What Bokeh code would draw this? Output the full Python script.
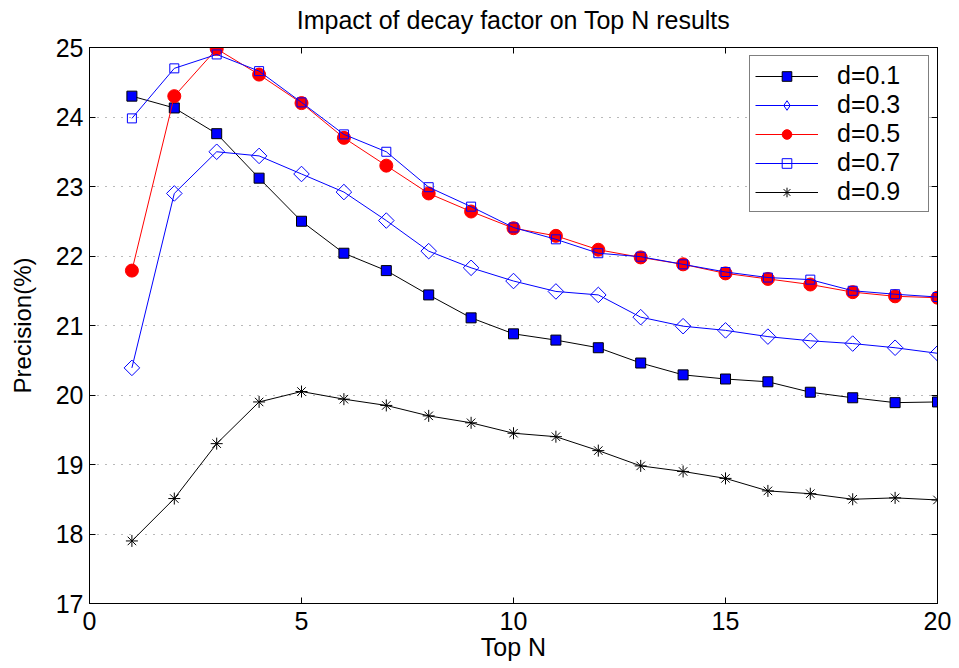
import numpy as np
from bokeh.plotting import figure
from bokeh.models import LinearAxis, FixedTicker, Legend, LegendItem, Range1d, CustomLabelingPolicy
from bokeh.embed import file_html
from bokeh.resources import INLINE

top_n = list(range(1, 21))
d01 = [24.30, 24.13, 23.76, 23.12, 22.50, 22.04, 21.79, 21.44, 21.11, 20.88,
       20.79, 20.68, 20.46, 20.29, 20.23, 20.19, 20.04, 19.96, 19.89, 19.90]
d03 = [20.39, 22.90, 23.50, 23.44, 23.18, 22.92, 22.51, 22.07, 21.83, 21.64,
       21.49, 21.44, 21.12, 20.99, 20.93, 20.84, 20.78, 20.74, 20.68, 20.60]
d05 = [21.79, 24.30, 24.98, 24.61, 24.20, 23.70, 23.30, 22.90, 22.64, 22.40,
       22.29, 22.09, 21.98, 21.88, 21.75, 21.67, 21.59, 21.48, 21.42, 21.40]
d07 = [23.98, 24.70, 24.90, 24.66, 24.21, 23.75, 23.50, 22.99, 22.71, 22.41,
       22.24, 22.04, 21.99, 21.88, 21.77, 21.69, 21.66, 21.50, 21.45, 21.41]
d09 = [17.90, 18.51, 19.30, 19.90, 20.05, 19.94, 19.85, 19.70, 19.60, 19.45,
       19.40, 19.20, 18.98, 18.90, 18.80, 18.62, 18.58, 18.50, 18.52, 18.49]
labels = ["d=0.1", "d=0.3", "d=0.5", "d=0.7", "d=0.9"]
x_ticks = [0, 5, 10, 15, 20]
y_ticks = [17, 18, 19, 20, 21, 22, 23, 24, 25]

FONT = "Liberation Sans"

p = figure(frame_width=848, frame_height=556, output_backend="svg", toolbar_location=None,
           x_range=Range1d(0, 20), y_range=Range1d(17, 25),
           min_border_left=89, min_border_right=22, min_border_top=47, min_border_bottom=65,
           background_fill_color="white", border_fill_color="white")
p.outline_line_color = "black"
p.outline_line_width = 1

p.title.text = "Impact of decay factor on Top N results"
p.title.align = "center"
p.title.text_font = FONT
p.title.text_font_size = "25px"
p.title.text_font_style = "normal"
p.title.text_color = "black"
p.title.standoff = 6

for ax in [p.xaxis[0], p.yaxis[0]]:
    ax.major_tick_in = 6
    ax.major_tick_out = 0
    ax.minor_tick_line_color = None
    ax.major_tick_line_color = "black"
    ax.major_label_text_font = FONT
    ax.major_label_text_font_size = "25px"
    ax.major_label_text_color = "black"
    ax.axis_line_color = "black"
    ax.axis_label_text_font = FONT
    ax.axis_label_text_font_size = "25px"
    ax.axis_label_text_font_style = "normal"
    ax.axis_label_text_color = "black"
p.yaxis[0].axis_label_text_font_size = "24px"
p.xaxis[0].ticker = FixedTicker(ticks=x_ticks)
p.yaxis[0].ticker = FixedTicker(ticks=y_ticks)
p.xaxis[0].axis_label = "Top N"
p.yaxis[0].axis_label = "Precision(%)"
p.xaxis[0].major_label_standoff = 8
p.yaxis[0].major_label_standoff = 6
p.xaxis[0].axis_label_standoff = 0
p.yaxis[0].axis_label_standoff = 17

no_labels = CustomLabelingPolicy(code="return []")
top_ax = LinearAxis(ticker=FixedTicker(ticks=x_ticks), major_label_policy=no_labels,
                    major_tick_in=6, major_tick_out=0, minor_tick_line_color=None,
                    major_tick_line_color="black",
                    axis_line_color="black", major_label_standoff=0)
right_ax = LinearAxis(ticker=FixedTicker(ticks=y_ticks),
                      major_label_policy=CustomLabelingPolicy(code="return []"),
                      major_tick_in=6, major_tick_out=0, minor_tick_line_color=None,
                      major_tick_line_color="black",
                      axis_line_color="black", major_label_standoff=0)
p.add_layout(top_ax, "above")
p.add_layout(right_ax, "right")

p.xgrid.visible = False
p.ygrid.ticker = FixedTicker(ticks=y_ticks)
p.ygrid.grid_line_color = "black"
p.ygrid.grid_line_alpha = 0.55
p.ygrid.grid_line_dash = "1 7"
p.ygrid.grid_line_width = 1

items = []
l1 = p.line(top_n, d01, line_color="black", line_width=1)
m1 = p.scatter(top_n, d01, marker="square", size=10, fill_color="blue", line_color="black", line_width=1)
items.append(LegendItem(label=labels[0], renderers=[l1, m1]))

l2 = p.line(top_n, d03, line_color="blue", line_width=1)
m2 = p.scatter(top_n, d03, marker="square", angle=np.pi / 4, size=11, fill_color=None, line_color="blue", line_width=1)
# zero-size twin used only for the legend swatch (legend markers ignore rotation)
m2_leg = p.scatter(top_n, d03, marker="diamond", size=0, fill_color=None, line_color="blue", line_width=1)
items.append(LegendItem(label=labels[1], renderers=[l2, m2_leg]))

l3 = p.line(top_n, d05, line_color="red", line_width=1)
m3 = p.scatter(top_n, d05, marker="circle", size=13, fill_color="red", line_color="red", line_width=1)
items.append(LegendItem(label=labels[2], renderers=[l3, m3]))

l4 = p.line(top_n, d07, line_color="blue", line_width=1)
m4 = p.scatter(top_n, d07, marker="square", size=9, fill_color=None, line_color="blue", line_width=1)
items.append(LegendItem(label=labels[3], renderers=[l4, m4]))

l5 = p.line(top_n, d09, line_color="black", line_width=1)
m5 = p.scatter(top_n, d09, marker="asterisk", size=12, line_color="black", line_width=1)
items.append(LegendItem(label=labels[4], renderers=[l5, m5]))

legend = Legend(items=items, location="top_right")
legend.margin = 8
legend.border_line_color = "black"
legend.border_line_width = 1
legend.background_fill_color = "white"
legend.background_fill_alpha = 1
legend.label_text_font = FONT
legend.label_text_font_size = "25px"
legend.label_text_color = "black"
legend.glyph_width = 63
legend.glyph_height = 24
legend.label_height = 24
legend.label_width = 86
legend.spacing = 0
legend.padding = 5
legend.label_standoff = 19
p.add_layout(legend, "center")

open("out.html", "w").write(file_html(p, INLINE))
